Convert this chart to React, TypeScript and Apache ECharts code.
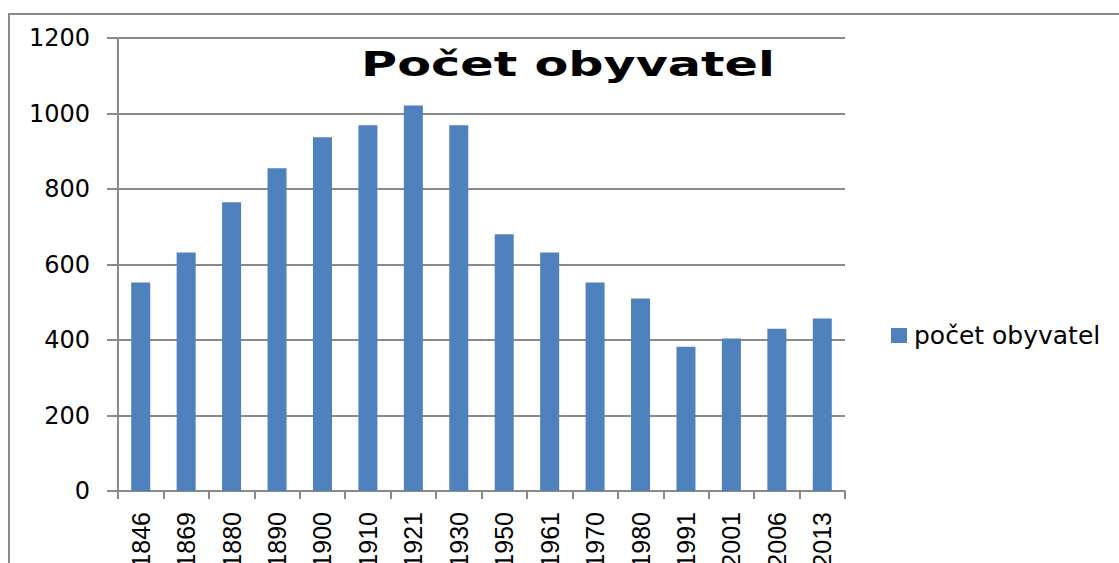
import React, { useEffect, useRef } from "react";
import * as echarts from "echarts";

const years = ["1846", "1869", "1880", "1890", "1900", "1910", "1921", "1930", "1950", "1961", "1970", "1980", "1991", "2001", "2006", "2013"];
const population = [552, 632, 765, 855, 937, 969, 1021, 969, 680, 632, 552, 510, 382, 404, 430, 457];
const yTicks = [0, 200, 400, 600, 800, 1000, 1200];
const titleText = "Počet obyvatel";
const seriesName = "počet obyvatel";

export default function App() {
  const ref = useRef<HTMLDivElement>(null);
  useEffect(() => {
    if (!ref.current) return;
    const chart = echarts.init(ref.current, null, { renderer: "svg" });
    const gray = "#8a8a8a";
    chart.setOption({
      animation: false,
      backgroundColor: "#ffffff",
      graphic: [
        {
          type: "rect",
          shape: { x: 9, y: 14, width: 1300, height: 800 },
          style: { fill: "none", stroke: gray, lineWidth: 2 },
          silent: true,
        },
        {
          type: "text",
          x: 568,
          y: 64,
          scaleX: 1.45,
          style: {
            text: titleText,
            font: "bold 34px 'DejaVu Sans'",
            fill: "#000000",
            align: "center",
            verticalAlign: "middle",
          },
        },
      ],
      legend: {
        show: true,
        data: [seriesName],
        left: 886,
        top: 318,
        icon: "rect",
        itemWidth: 16,
        itemHeight: 15,
        itemGap: 10,
        textStyle: { fontFamily: "DejaVu Sans", fontSize: 25, color: "#000000", padding: [0, 0, 0, 2] },
      },
      grid: { left: 118, top: 38, width: 727, height: 453, containLabel: false, outerBoundsMode: "none" },
      xAxis: {
        type: "category",
        data: years,
        boundaryGap: true,
        axisLine: { show: true, lineStyle: { color: gray, width: 2 } },
        axisTick: { show: true, length: 8, alignWithLabel: false, lineStyle: { color: gray, width: 2 } },
        axisLabel: {
          rotate: 90,
          margin: 21,
          interval: 0,
          fontFamily: "Liberation Sans",
          fontSize: 25,
          color: "#000000",
        },
        splitLine: { show: false },
      },
      yAxis: {
        type: "value",
        min: yTicks[0],
        max: yTicks[yTicks.length - 1],
        interval: 200,
        axisLine: { show: true, lineStyle: { color: gray, width: 2 } },
        axisTick: { show: true, length: 11, lineStyle: { color: gray, width: 2 } },
        axisLabel: {
          margin: 28,
          fontFamily: "DejaVu Sans",
          fontSize: 24,
          color: "#000000",
          formatter: (v: number) => String(v),
        },
        splitLine: { show: true, lineStyle: { color: gray, width: 2 } },
      },
      series: [
        {
          name: seriesName,
          type: "bar",
          data: population,
          barWidth: 19,
          itemStyle: { color: "#4F81BD" },
        },
      ],
    });
    return () => chart.dispose();
  }, []);
  return (
    <div
      ref={ref}
      style={{ position: "fixed", left: 0, top: 0, width: 1119, height: 563 }}
    />
  );
}
